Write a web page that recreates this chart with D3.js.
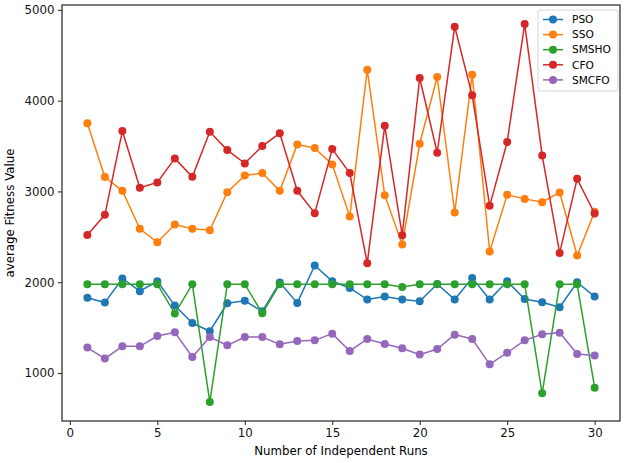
<!DOCTYPE html>
<html>
    <head>
        <script src="https://cdn.jsdelivr.net/npm/d3@7"></script>
        <style>
            body { margin: 0; background: #fff; }
            text { font-family: "DejaVu Sans", sans-serif; }
        </style>
    </head>
    <body>
        <div id="viz"></div>
        <script>
            // runs 1..30
            const runs = d3.range(1, 31);
            const seriesNames = ["PSO", "SSO", "SMSHO", "CFO", "SMCFO"];
            const colors = ["#1f77b4", "#ff7f0e", "#2ca02c", "#d62728", "#9467bd"];

            const pso = [1830, 1776, 2041, 1901, 2011, 1743, 1551, 1460, 1768, 1795,
                         1680, 1997, 1772, 2184, 2011, 1937, 1809, 1842, 1809, 1791,
                         1980, 1809, 2048, 1809, 2011, 1816, 1779, 1724, 2000, 1842];
            const sso = [3750, 3158, 3007, 2588, 2440, 2636, 2588, 2573, 2992, 3176,
                         3202, 3007, 3518, 3477, 3298, 2724, 4341, 2959, 2416, 3525,
                         4260, 2768, 4286, 2338, 2963, 2918, 2882, 2989, 2294, 2775];
            const smsho = [1978, 1978, 1978, 1978, 1978, 1655, 1978, 680, 1978, 1978,
                           1658, 1978, 1978, 1978, 1978, 1978, 1978, 1978, 1948, 1978,
                           1978, 1978, 1978, 1978, 1978, 1978, 776, 1978, 1978, 839];
            const cfo = [2520, 2742, 3665, 3040, 3099, 3364, 3161, 3657, 3455, 3309,
                         3500, 3640, 3007, 2761, 3466, 3202, 2209, 3723, 2518, 4249,
                         3426, 4815, 4058, 2841, 3544, 4845, 3397, 2323, 3139, 2757];
            const smcfo = [1280, 1159, 1294, 1294, 1408, 1449, 1177, 1397, 1305, 1397,
                           1397, 1316, 1353, 1360, 1434, 1243, 1375, 1320, 1272, 1203,
                           1265, 1423, 1375, 1096, 1224, 1360, 1427, 1445, 1210, 1192];
            const allSeries = [pso, sso, smsho, cfo, smcfo];
            const yTicks = [1000, 2000, 3000, 4000, 5000];
            const xTicks = [0, 5, 10, 15, 20, 25, 30];

            const W = 624, H = 463;
            const margin = {top: 5, right: 4, bottom: 42, left: 62};
            const width = W - margin.left - margin.right,
                  height = H - margin.top - margin.bottom;

            const svg = d3.select("#viz").append("svg")
                .attr("width", W)
                .attr("height", H);

            const g = svg.append("g")
                .attr("transform", "translate(" + margin.left + "," + margin.top + ")");

            // matplotlib-like 5% padding
            const allVals = allSeries.flat();
            const yMin = d3.min(allVals), yMax = d3.max(allVals);
            const yPad = (yMax - yMin) * 0.05;
            const y = d3.scaleLinear()
                .domain([yMin - yPad, yMax + yPad])
                .range([height, 0]);
            const x = d3.scaleLinear()
                .domain([1 - 29 * 0.05, 30 + 29 * 0.05])
                .range([0, width]);

            const xAxis = g.append("g")
                .attr("transform", "translate(0," + height + ")")
                .call(d3.axisBottom(x).tickValues(xTicks).tickSize(4).tickPadding(3.5));
            const yAxis = g.append("g")
                .call(d3.axisLeft(y).tickValues(yTicks).tickFormat(d3.format("d")).tickSize(4).tickPadding(3.5));

            [xAxis, yAxis].forEach(a => {
                a.select(".domain").remove();
                a.selectAll("text").style("font-size", "11.8px").style("fill", "#111")
                    .style("font-family", "'DejaVu Sans', sans-serif");
                a.selectAll("line").style("stroke", "#222").style("stroke-width", 1);
            });

            // frame
            g.append("rect")
                .attr("width", width)
                .attr("height", height)
                .style("fill", "none")
                .style("stroke", "#333")
                .style("stroke-width", 1.3);

            const line = d3.line()
                .x((d, i) => x(runs[i]))
                .y(d => y(d));

            allSeries.forEach((vals, k) => {
                g.append("path")
                    .datum(vals)
                    .attr("d", line)
                    .style("fill", "none")
                    .style("stroke", colors[k])
                    .style("stroke-width", 1.5);
                g.selectAll(".pt" + k)
                    .data(vals)
                    .enter()
                    .append("circle")
                        .attr("cx", (d, i) => x(runs[i]))
                        .attr("cy", d => y(d))
                        .attr("r", 4)
                        .style("fill", colors[k]);
            });

            // legend
            const lg = g.append("g")
                .attr("transform", "translate(" + (538 - margin.left) + "," + (10 - margin.top) + ")");
            lg.append("rect")
                .attr("width", 80)
                .attr("height", 81)
                .attr("rx", 2)
                .style("fill", "#fff")
                .style("fill-opacity", 0.8)
                .style("stroke", "#ccc")
                .style("stroke-width", 0.8);
            seriesNames.forEach((name, k) => {
                const yy = 9.5 + k * 15.1;
                lg.append("line")
                    .attr("x1", 5).attr("x2", 25)
                    .attr("y1", yy).attr("y2", yy)
                    .style("stroke", colors[k])
                    .style("stroke-width", 1.5);
                lg.append("circle")
                    .attr("cx", 15).attr("cy", yy).attr("r", 4)
                    .style("fill", colors[k]);
                lg.append("text")
                    .attr("x", 34).attr("y", yy)
                    .attr("dy", "0.35em")
                    .style("font-size", "10.6px")
                    .text(name);
            });

            // axis labels
            svg.append("text")
                .attr("x", margin.left + width / 2)
                .attr("y", 455)
                .style("text-anchor", "middle")
                .style("font-size", "11.8px")
                .text("Number of Independent Runs");
            svg.append("text")
                .attr("transform", "translate(14," + (margin.top + height / 2) + ") rotate(-90)")
                .style("text-anchor", "middle")
                .style("font-size", "11.8px")
                .text("average Fitness Value");
        </script>
    </body>
</html>
